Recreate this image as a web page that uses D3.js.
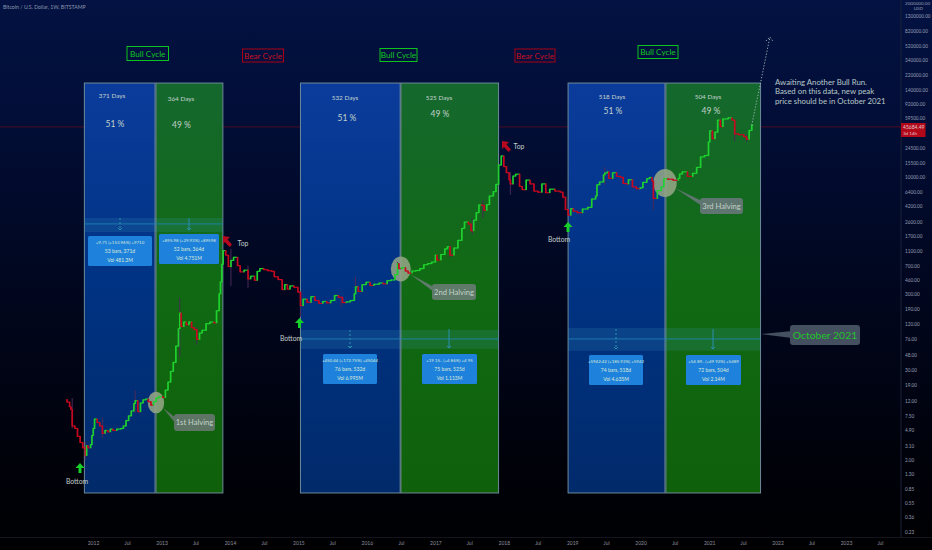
<!DOCTYPE html>
<html><head><meta charset="utf-8">
<script src="https://cdnjs.cloudflare.com/ajax/libs/d3/7.8.5/d3.min.js"></script>
<style>html,body{margin:0;padding:0;background:#000;overflow:hidden}svg{display:block}text{font-family:Lato,"Noto Sans",sans-serif}</style>
</head><body><div id="c"></div>
<script>
const closes2011=[["2011-08-15",11.5],["2011-08-29",10],["2011-09-05",9.2],["2011-09-12",5.6],["2011-09-26",5.2],["2011-10-10",4.1],["2011-10-24",3.4],["2011-11-07",2.9],["2011-11-21",2.3],["2011-11-28",3.1],["2011-12-05",2.9],["2011-12-19",3.2],["2011-12-26",4.2]];
const closes2012=[["2012-01-02",5.2],["2012-01-09",6.9],["2012-01-23",6.2],["2012-02-06",5.6],["2012-02-20",4.5],["2012-03-05",4.9],["2012-03-19",4.7],["2012-04-02",5.1],["2012-04-16",4.9],["2012-05-07",5.1],["2012-05-28",5.2],["2012-06-11",5.6],["2012-06-25",6.6],["2012-07-09",7.6],["2012-07-23",8.8],["2012-08-06",11],["2012-08-13",12],["2012-08-27",8.6],["2012-09-10",11.2],["2012-09-24",12.3],["2012-10-08",12.6],["2012-10-22",11.6],["2012-11-05",10.5],["2012-11-19",11.6],["2012-12-03",13],["2012-12-17",13.6]];
const closes2013=[["2013-01-07",13.2],["2013-01-21",16.5],["2013-02-04",21],["2013-02-18",29],["2013-03-04",38],["2013-03-18",62],["2013-04-01",105],["2013-04-08",168],["2013-04-15",112],["2013-04-29",128],["2013-05-13",118],["2013-05-27",128],["2013-06-10",108],["2013-06-24",102],["2013-07-08",76],["2013-07-22",92],["2013-08-05",100],["2013-08-26",122],["2013-09-16",128],["2013-10-07",125],["2013-10-21",180],["2013-11-04",300],["2013-11-11",430],["2013-11-18",730],["2013-11-25",1100],["2013-12-09",960],["2013-12-23",680]];
const closes2014=[["2014-01-06",820],["2014-01-20",900],["2014-02-10",700],["2014-02-24",580],["2014-03-17",610],["2014-04-07",470],["2014-04-21",510],["2014-05-12",450],["2014-05-26",590],["2014-06-09",640],["2014-06-30",620],["2014-07-21",600],["2014-08-11",590],["2014-08-25",500],["2014-09-15",460],["2014-10-06",340],["2014-10-20",395],["2014-11-03",345],["2014-11-17",380],["2014-12-08",365],["2014-12-29",315]];
const closes2015=[["2015-01-12",210],["2015-01-26",255],["2015-02-16",232],["2015-03-09",275],["2015-03-30",245],["2015-04-20",225],["2015-05-11",238],["2015-06-01",228],["2015-06-22",245],["2015-07-13",285],["2015-08-03",270],["2015-08-24",230],["2015-09-14",235],["2015-10-05",245],["2015-10-26",300],["2015-11-02",370],["2015-11-16",322],["2015-12-07",395],["2015-12-28",425]];
const closes2016=[["2016-01-18",385],["2016-02-08",400],["2016-03-07",415],["2016-03-28",405],["2016-04-18",445],["2016-05-09",455],["2016-05-30",535],["2016-06-13",745],["2016-06-20",640],["2016-07-04",660],["2016-07-25",595],["2016-08-08",560],["2016-08-29",595],["2016-09-19",605],["2016-10-10",640],["2016-10-31",720],["2016-11-21",745],["2016-12-12",780],["2017-01-01",960]];
const closes2017=[["2017-01-09",830],["2017-01-30",980],["2017-02-20",1160],["2017-03-06",1240],["2017-03-20",960],["2017-04-10",1190],["2017-05-01",1500],["2017-05-22",2150],["2017-06-05",2600],["2017-06-26",2450],["2017-07-10",2000],["2017-07-24",2750],["2017-08-07",3450],["2017-08-21",4350],["2017-09-04",4300],["2017-09-18",3700],["2017-10-02",4400],["2017-10-16",5700],["2017-11-06",6500],["2017-11-20",8100],["2017-12-04",14500],["2017-12-18",19000]];
const closes2018=[["2018-01-01",13800],["2018-01-15",11500],["2018-01-29",9300],["2018-02-05",8200],["2018-02-19",10400],["2018-03-05",11000],["2018-03-26",7600],["2018-04-09",6900],["2018-04-30",9200],["2018-05-21",8200],["2018-06-11",6600],["2018-07-02",6400],["2018-07-23",8200],["2018-08-13",6300],["2018-09-03",7000],["2018-10-01",6600],["2018-10-29",6400],["2018-11-12",5500],["2018-11-26",3800],["2018-12-10",3200],["2018-12-24",3900]];
const closes2019=[["2019-01-07",3600],["2019-01-28",3450],["2019-02-25",3850],["2019-03-25",4050],["2019-04-15",5200],["2019-05-06",5700],["2019-05-13",8000],["2019-05-27",8700],["2019-06-17",10800],["2019-06-24",11400],["2019-07-08",11800],["2019-07-15",9700],["2019-08-05",11500],["2019-08-26",10300],["2019-09-16",10000],["2019-09-30",8300],["2019-10-21",8200],["2019-10-28",9300],["2019-11-18",7500],["2019-12-09",7100],["2019-12-30",7300]];
const closes2020=[["2020-01-13",8600],["2020-02-03",9600],["2020-02-17",9950],["2020-03-02",8900],["2020-03-09",5300],["2020-03-30",6700],["2020-04-20",7500],["2020-05-04",9600],["2020-05-25",9450],["2020-06-22",9150],["2020-07-20",9700],["2020-07-27",11050],["2020-08-10",11800],["2020-09-07",10300],["2020-10-05",11300],["2020-10-26",13500],["2020-11-16",18500],["2020-12-07",19300],["2020-12-28",29000]];
const closes2021=[["2021-01-04",40500],["2021-01-18",32000],["2021-02-01",39000],["2021-02-15",56000],["2021-03-01",46000],["2021-03-15",58000],["2021-04-12",60000],["2021-05-03",56000],["2021-05-17",37000],["2021-06-07",36000],["2021-07-05",34000],["2021-07-19",31500],["2021-08-02",41000],["2021-08-16",48000]];

const wickDates=["2011-09-12","2011-11-21","2012-02-20","2012-08-13","2013-04-08","2013-07-08","2014-01-06","2014-04-07","2015-01-12","2015-08-17","2015-11-02","2016-06-13","2017-03-20","2017-07-17","2017-09-11","2018-02-05","2019-06-24","2020-03-09","2021-05-17","2021-07-19"];
const wickHighs=[13,3.5,7.2,16.5,266,110,1160,700,290,280,500,780,1300,2900,5000,11800,13600,9200,46000,36000];
const wickLows=[5.2,2.0,3.9,8.3,45,65,380,360,150,201,330,550,900,1800,2950,5900,8000,3750,30000,29000];

const cycleColors=["blue","green","blue","green","blue","green"];
const cycleStart=["2011-11-16","2012-12-02","2015-01-12","2016-07-01","2018-12-10","2020-05-15"];
const cycleEnd=["2012-11-27","2013-11-24","2016-06-27","2017-12-04","2020-05-10","2021-10-02"];
const cycleDays=["371 Days","364 Days","532 Days","525 Days","518 Days","504 Days"];
const cyclePct=["51 %","49 %","51 %","49 %","51 %","49 %"];
const cycleTopPrice=171000, cycleBottomPrice=0.745;

const bandStart=["2011-11-16","2015-01-12","2018-12-10"];
const bandEnd=["2013-11-24","2017-12-04","2021-10-02"];
const bandHigh=[2940,101,107];
const bandMid=[2460,77,77];
const bandLow=[1928,57,54];

const measureLine1=["+9.71 (+153.96%) +9710","+895.98 (+29.93%) +89598","+450.44 (+172.75%) +45044","+19 15.. (+4 86%) +4 95","+5942.42 (+185.92%) +5942","+54 89.. (+49 92%) +5489"];
const measureLine2=["53 bars, 371d","52 bars, 364d","76 bars, 532d","75 bars, 525d","74 bars, 518d","72 bars, 504d"];
const measureLine3=["Vol 481.3M","Vol 4.751M","Vol 6.995M","Vol 1.113M","Vol 4.635M","Vol 2.14M"];

const priceTicks=[1300000,820000,520000,340000,220000,140000,92000,59500,24500,15500,10000,6400,4200,2600,1700,1100,700,460,300,190,120,76,48,30,19,12,7.5,4.9,3.1,2,1.3,0.85,0.55,0.36,0.23];
const timeTickDates=["2012-01-01","2012-07-01","2013-01-01","2013-07-01","2014-01-01","2014-07-01","2015-01-01","2015-07-01","2016-01-01","2016-07-01","2017-01-01","2017-07-01","2018-01-01","2018-07-01","2019-01-01","2019-07-01","2020-01-01","2020-07-01","2021-01-01","2021-07-01","2022-01-01","2022-07-01","2023-01-01","2023-07-01"];
const timeTickLabels=["2012","Jul","2013","Jul","2014","Jul","2015","Jul","2016","Jul","2017","Jul","2018","Jul","2019","Jul","2020","Jul","2021","Jul","2022","Jul","2023","Jul"];

const projectionDates=["2021-08-16","2021-10-02","2021-11-21"];
const projectionPrices=[48000,172000,685000];
const lastPrice=45684.49;

const W=932,H=550;
const pd=d3.utcParse("%Y-%m-%d");
const x=d3.scaleUtc().domain([pd("2012-01-01"),pd("2023-01-01")]).range([93,846]);
const y=d3.scaleLog().domain([820000,0.23]).range([31,532]);
const svg=d3.select("#c").append("svg").attr("width",W).attr("height",H);
const defs=svg.append("defs");
function grad(id,stops){const g=defs.append("linearGradient").attr("id",id).attr("gradientUnits","userSpaceOnUse").attr("x1",0).attr("y1",0).attr("x2",0).attr("y2",H);
 stops.forEach(s=>g.append("stop").attr("offset",s[0]).attr("stop-color",s[1]));}
grad("bg",[[0,"#031242"],[0.2,"#020e38"],[0.5,"#010720"],[0.8,"#00020c"],[1,"#000002"]]);
grad("gblue",[[0.15,"#0b3c9c"],[0.5,"#003384"],[0.9,"#012a6a"]]);
grad("ggreen",[[0.15,"#15682e"],[0.5,"#116a14"],[0.9,"#10600a"]]);
svg.append("rect").attr("width",W).attr("height",H).attr("fill","url(#bg)");

svg.append("line").attr("x1",901).attr("x2",901).attr("y1",0).attr("y2",537).attr("stroke","#1b2238");
svg.append("line").attr("x1",0).attr("x2",W).attr("y1",537.5).attr("y2",537.5).attr("stroke","#14141f");
svg.append("line").attr("x1",0).attr("x2",901).attr("y1",y(lastPrice)).attr("y2",y(lastPrice)).attr("stroke","#4a0c24");

const rects=svg.append("g");
cycleStart.forEach((s,i)=>{
 const x0=x(pd(s)),x1=x(pd(cycleEnd[i]));
 rects.append("rect").attr("x",x0).attr("y",y(cycleTopPrice)).attr("width",x1-x0).attr("height",y(cycleBottomPrice)-y(cycleTopPrice))
  .attr("fill",cycleColors[i]==="blue"?"url(#gblue)":"url(#ggreen)").attr("stroke","#6d8a98");
});

const bands=svg.append("g");
bandStart.forEach((s,i)=>{
 const x0=x(pd(s)),x1=x(pd(bandEnd[i]));
 bands.append("rect").attr("x",x0).attr("y",y(bandHigh[i])).attr("width",x1-x0).attr("height",y(bandLow[i])-y(bandHigh[i]))
  .attr("fill","#3f9fc0").attr("opacity",0.17);
 bands.append("line").attr("x1",x0).attr("x2",x1).attr("y1",y(bandMid[i])).attr("y2",y(bandMid[i])).attr("stroke","#1f86b8").attr("opacity",0.8);
});
const measureArrowX=[120,189,350,449,616,713];
const measureArrowTop=[218,218,330,329,329,329];
const measureArrowBot=[230,230,348,348,349,349];
measureArrowX.forEach((ax,i)=>{
 const dash=(i%2===0)?"2,2":null;
 svg.append("line").attr("x1",ax).attr("x2",ax).attr("y1",measureArrowTop[i]).attr("y2",measureArrowBot[i]).attr("stroke","#2a8fb0").attr("stroke-dasharray",dash);
 svg.append("path").attr("d",`M${ax-2},${measureArrowBot[i]-2}L${ax},${measureArrowBot[i]}L${ax+2},${measureArrowBot[i]-2}`).attr("fill","none").attr("stroke","#2a8fb0");
});

const ells=[[156,402.5,8.2,10.8],[400.8,269,10,12.5],[665,183,11.7,14]];
svg.append("g").selectAll("ellipse").data(ells).join("ellipse")
 .attr("cx",d=>d[0]).attr("cy",d=>d[1]).attr("rx",d=>d[2]).attr("ry",d=>d[3])
 .attr("fill","#93a585").attr("opacity",0.88);

const candleRows=[...closes2011,...closes2012,...closes2013,...closes2014,...closes2015,...closes2016,...closes2017,...closes2018,...closes2019,...closes2020,...closes2021];
const cdata=candleRows.map((r,i)=>({t:pd(r[0]),n:i+1<candleRows.length?pd(candleRows[i+1][0]):null,o:i?candleRows[i-1][1]:r[1]*1.08,c:r[1]}));
const wicks=svg.append("g");
wickDates.forEach((d,i)=>{
 wicks.append("line").attr("x1",x(pd(d))).attr("x2",x(pd(d))).attr("y1",y(wickHighs[i])).attr("y2",y(wickLows[i])).attr("stroke","#4a2a58");
});
const up="#1fd12f",dn="#c8081e";
svg.append("g").selectAll("path").data(cdata).join("path")
 .attr("fill","none").attr("stroke",d=>d.c>=d.o?up:dn).attr("stroke-width",1.2)
 .attr("d",d=>`M${x(d.t)},${y(d.c)}H${d.n?x(d.n):x(d.t)+1.5}`);
svg.append("g").selectAll("rect").data(cdata).join("rect")
 .attr("x",d=>x(d.t)-0.8).attr("width",1.7)
 .attr("y",d=>Math.min(y(d.o),y(d.c))-0.4)
 .attr("height",d=>Math.abs(y(d.o)-y(d.c))+0.8)
 .attr("fill",d=>d.c>=d.o?up:dn);

const projPts=projectionDates.map((d,i)=>[x(pd(d)),y(projectionPrices[i])]);
svg.append("path").attr("d",d3.line()(projPts)).attr("fill","none").attr("stroke","#9fb4b8").attr("stroke-dasharray","1.2,1.8");
const tip=projPts[2];
svg.append("path").attr("d",`M${tip[0]-4},${tip[1]+4}L${tip[0]},${tip[1]}L${tip[0]+3.5},${tip[1]+5}`).attr("fill","none").attr("stroke","#9fb4b8").attr("stroke-dasharray","1.2,1.8");

const boxLabels=[["Bull Cycle",127,46.5,41.5,14,"#0cc41c","#10c922"],["Bear Cycle",242.5,49,41,13,"#a80012","#c8101e"],["Bull Cycle",380,48.5,37,13,"#0cc41c","#10c922"],["Bear Cycle",515,49,40,13,"#a80012","#c8101e"],["Bull Cycle",638,45.5,40,13,"#0cc41c","#10c922"]];
boxLabels.forEach(b=>{
 svg.append("rect").attr("x",b[1]).attr("y",b[2]).attr("width",b[3]).attr("height",b[4]).attr("fill","none").attr("stroke",b[5]);
 svg.append("text").attr("x",b[1]+b[3]/2).attr("y",b[2]+b[4]/2+3).attr("text-anchor","middle").attr("font-size",8.2).attr("fill",b[6]).text(b[0]);
});

const daysPos=[[112,95],[181,98],[345,97],[439,97],[612,96],[708,96]];
const pctPos=[[115,124],[181.5,124.5],[347,118],[440,114],[613,111],[711,111]];
daysPos.forEach((p,i)=>{svg.append("text").attr("x",p[0]).attr("y",p[1]+2.5).attr("text-anchor","middle").attr("font-size",6.4).attr("fill","#c2d2cc").text(cycleDays[i]);});
pctPos.forEach((p,i)=>{svg.append("text").attr("x",p[0]).attr("y",p[1]+3).attr("text-anchor","middle").attr("font-size",8.5).attr("fill","#c2d2cc").text(cyclePct[i]);});

const mBoxes=[[88,236,64,30],[159,234,60,30],[323,354,54,30],[422,354,55,30],[589,355,54,30],[686,355,55,30]];
mBoxes.forEach((b,i)=>{
 svg.append("rect").attr("x",b[0]).attr("y",b[1]).attr("width",b[2]).attr("height",b[3]).attr("rx",1.5).attr("fill","#1e82dc");
 const cx=b[0]+b[2]/2;
 [measureLine1[i],measureLine2[i],measureLine3[i]].forEach((t,j)=>{
  svg.append("text").attr("x",cx).attr("y",b[1]+7.5+j*9).attr("text-anchor","middle").attr("font-size",j===0?4.4:5).attr("fill","#dbe8d8").text(t);
 });
});

const callouts=[["1st Halving",174,414,41,17,"#5e7566","#c2d2c8",7.6,"M163,408L176,418L176,424Z"],["2nd Halving",432,284,44,16,"#5f7a68","#c2d2c8",7.6,"M410,274L434,287L434,292Z"],["3rd Halving",700,198,43,16,"#5f7570","#c2d2c8",7.6,"M675,188L702,201L702,206Z"],["October 2021",790,325,70,20,"#44505f","#22c42c",10.4,"M761,334L792,331L792,338Z"]];
callouts.forEach(c=>{
 svg.append("path").attr("d",c[8]).attr("fill",c[5]);
 svg.append("rect").attr("x",c[1]).attr("y",c[2]).attr("width",c[3]).attr("height",c[4]).attr("rx",3).attr("fill",c[5]);
 svg.append("text").attr("x",c[1]+c[3]/2).attr("y",c[2]+c[4]/2+c[7]*0.36).attr("text-anchor","middle").attr("font-size",c[7]).attr("fill",c[6]).text(c[0]);
});

function upArrow(cx,top){svg.append("path").attr("d",`M${cx},${top}L${cx+4.5},${top+5}L${cx+1.5},${top+5}L${cx+1.5},${top+10}L${cx-1.5},${top+10}L${cx-1.5},${top+5}L${cx-4.5},${top+5}Z`).attr("fill","#17d02a");}
[[80,463],[299.5,318],[568,222]].forEach(a=>upArrow(a[0],a[1]));
function redArrow(cx,cy){svg.append("path").attr("d",`M${cx-4},${cy-5}L${cx+3},${cy-4}L${cx+0.5},${cy-1.5}L${cx+5},${cy+3.5}L${cx+2.5},${cy+6}L${cx-2},${cy+1}L${cx-4},${cy+3}Z`).attr("fill","#b8081e");}
[[227,241],[506,146]].forEach(a=>redArrow(a[0],a[1]));
const smallLabels=[["Bottom",77,481],["Bottom",291,338],["Bottom",559,239],["Top",243,243],["Top",519,146]];
smallLabels.forEach(l=>{svg.append("text").attr("x",l[1]).attr("y",l[2]+2.5).attr("text-anchor","middle").attr("font-size",6.8).attr("fill","#c2d0cc").text(l[0]);});

const noteLines=["Awaiting Another Bull Run.","Based on this data, new peak","price should be in October 2021"];
noteLines.forEach((t,i)=>{svg.append("text").attr("x",775).attr("y",85+i*9.3).attr("font-size",7.8).attr("fill","#b8c8c8").text(t);});

svg.append("text").attr("x",3).attr("y",9).attr("font-size",5.2).attr("fill","#8c98ae").text("Bitcoin / U.S. Dollar, 1W, BITSTAMP");

const yAxis=d3.axisRight(y).tickValues(priceTicks).tickSize(0).tickPadding(4).tickFormat(d3.format(".2f"));
const gy=svg.append("g").attr("transform","translate(901,0)").call(yAxis);
gy.select(".domain").remove();
gy.selectAll("text").attr("font-size",4.7).attr("fill","#969eb2").style("font-family","Lato,sans-serif");
svg.append("text").attr("x",905).attr("y",4.5).attr("font-size",4.6).attr("fill","#969eb2").text("2000000.00");
svg.append("text").attr("x",923).attr("y",9.5).attr("text-anchor","end").attr("font-size",4.6).attr("fill","#969eb2").text("USD");

const tickDates=timeTickDates.map(pd);
const xAxis=d3.axisBottom(x).tickValues(tickDates).tickSize(0).tickPadding(3).tickFormat((d,i)=>timeTickLabels[i]);
const gx=svg.append("g").attr("transform","translate(0,538)").call(xAxis);
gx.select(".domain").remove();
gx.selectAll("text").attr("font-size",5).attr("fill","#8e8e9c").style("font-family","Lato,sans-serif");

svg.append("rect").attr("x",901).attr("y",123).attr("width",24.5).attr("height",14).attr("fill","#b3071a");
svg.append("text").attr("x",903).attr("y",129).attr("font-size",5).attr("fill","#e0c8cc").text(d3.format(".2f")(lastPrice));
svg.append("text").attr("x",903).attr("y",135).attr("font-size",4.5).attr("fill","#e0c8cc").text("3d 14h");
</script></body></html>
